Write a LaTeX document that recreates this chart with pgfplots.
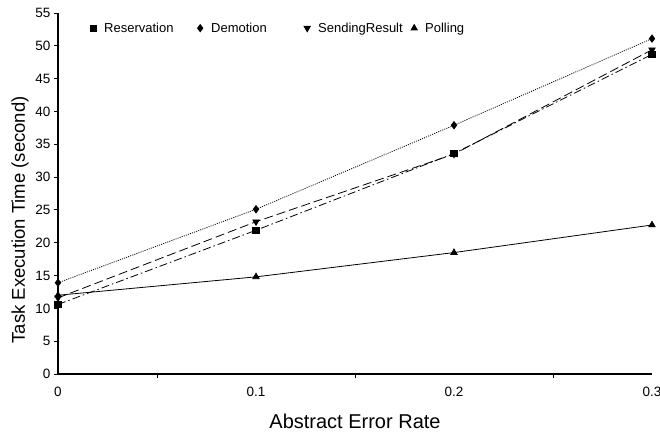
\documentclass[border=0pt]{standalone}
\usepackage{pgfplots}
\pgfplotsset{compat=1.18}
\usepackage{fontspec}
\setmainfont{Liberation Sans}
\begin{document}
\begin{tikzpicture}
\useasboundingbox (-58pt,-61pt) rectangle (602pt,374pt);
\begin{axis}[
  scale only axis,
  width=594pt, height=361pt,
  xmin=0, xmax=0.3, ymin=0, ymax=55,
  clip=false,
  axis x line*=bottom, axis y line*=left,
  axis line style={-, line width=1.1pt},
  tick align=outside,
  major tick length=4pt,
  tick style={line width=0.9pt, black},
  xtick={0.05,0.15,0.25},
  xticklabels={},
  extra x ticks={0,0.1,0.2,0.3},
  extra x tick labels={0,0.1,0.2,0.3},
  extra x tick style={major tick length=0pt, xticklabel style={yshift=-10pt}},
  ytick={0,5,...,55},
  /pgf/number format/assume math mode=true,
  tick label style={font=\fontsize{13.5}{15}\selectfont},
  xlabel={Abstract Error Rate},
  ylabel={Task Execution Time (second)},
  xlabel style={font=\fontsize{20}{23}\selectfont, yshift=-6pt},
  ylabel style={font=\fontsize{18.5}{21}\selectfont, at={(ticklabel cs:0.427)}},
  legend columns=4,
  legend style={at={(rel axis cs:0.0522,0.958)}, anchor=west, draw=none, fill=none,
    inner sep=0pt, font=\fontsize{13}{15}\selectfont,
    /tikz/every even column/.style={column sep=0pt},
    /tikz/every odd column/.style={column sep=0pt}},
  legend image code/.code={\path[draw=none,fill=none] (-4pt,-4pt) rectangle (9pt,4pt);
    \draw[#1,solid] plot[only marks] coordinates {(0pt,0pt)};},
]
\addplot[black, line width=0.8pt, dash pattern=on 8pt off 3pt on 1.5pt off 3pt,
  mark=square*, mark size=3.2pt, mark options={solid}]
  coordinates {(0,10.6) (0.1,21.9) (0.2,33.6) (0.3,48.7)};
\addlegendentry{\makebox[90pt][l]{Reservation}}
\addplot[black, line width=0.8pt, dash pattern=on 1pt off 1.2pt,
  mark=diamond*, mark size=3.6pt, mark options={solid}]
  coordinates {(0,13.9) (0.1,25.1) (0.2,37.9) (0.3,51.1)};
\addlegendentry{\makebox[90pt][l]{Demotion}}
\addplot[black, line width=0.8pt, dash pattern=on 9pt off 4pt,
  mark=triangle*, mark size=3.6pt, mark options={solid, rotate=180}]
  coordinates {(0,11.6) (0.1,23.2) (0.2,33.5) (0.3,49.4)};
\addlegendentry{\makebox[90pt][l]{SendingResult}}
\addplot[black, line width=0.8pt, solid,
  mark=triangle*, mark size=3.6pt]
  coordinates {(0,12.0) (0.1,14.8) (0.2,18.5) (0.3,22.7)};
\addlegendentry{Polling}
\end{axis}
\end{tikzpicture}
\end{document}
